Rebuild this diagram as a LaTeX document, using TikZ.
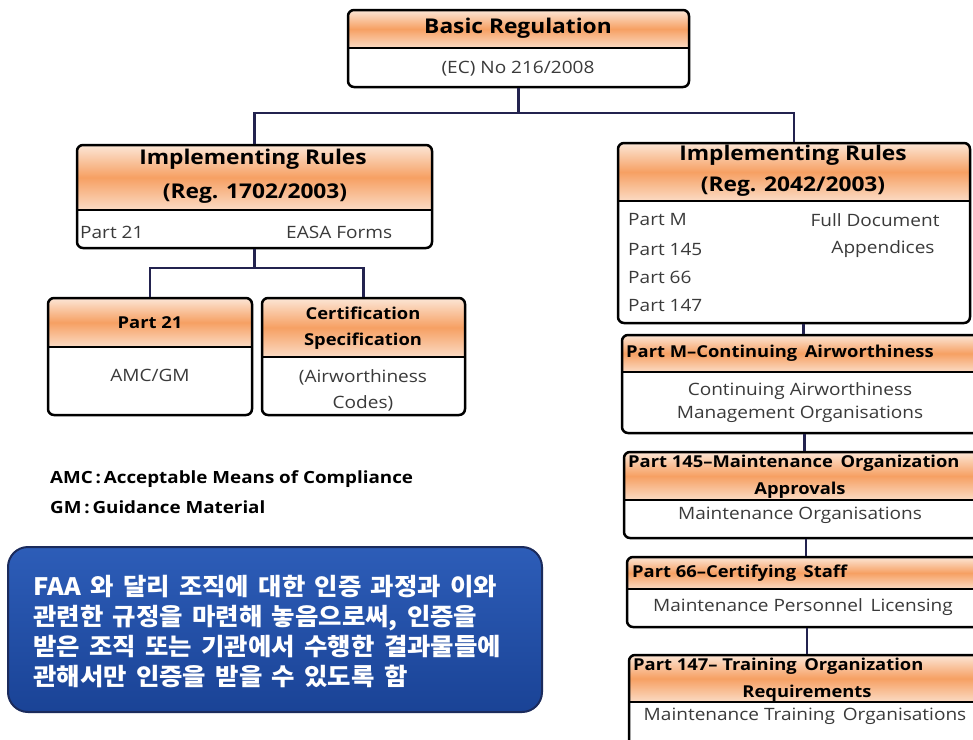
\documentclass[tikz,border=0pt]{standalone}
\usepackage{fontspec}
\setmainfont{Open Sans}[FakeStretch=1.12]
\newfontfamily\krfont{Noto Sans CJK KR}[FakeStretch=1.06, WordSpace=1.6]
\usetikzlibrary{fit}
\definecolor{peach}{HTML}{FCE6D6}
\definecolor{orng}{HTML}{F6A063}
\definecolor{navy}{HTML}{23234F}
\definecolor{bodytxt}{HTML}{3A3A3A}
\definecolor{bluetop}{HTML}{2D5DB8}
\definecolor{bluebot}{HTML}{1A4396}
\definecolor{blueedge}{HTML}{1B2B5C}
\tikzset{
  hdrshade/.style={top color=peach, bottom color=peach!85!orng, middle color=orng},
  boxline/.style={line width=2.5pt, black},
  boxframe/.style={draw=black, line width=2.5pt, rounded corners=6pt, inner sep=0pt},
  conn/.style={draw=navy, line width=2.8pt},
  hd/.style={font=\bfseries\fontsize{20.3}{22}\selectfont, text=black, inner sep=0pt},
  sb/.style={font=\bfseries\fontsize{16.4}{18}\selectfont, text=black, inner sep=0pt},
  bd/.style={font=\fontsize{17}{19}\selectfont, text=bodytxt, inner sep=0pt},
  note/.style={draw=blueedge, line width=2pt, rounded corners=20pt, top color=bluetop, bottom color=bluebot, inner sep=0pt},
  notetext/.style={font=\krfont\bfseries\fontsize{24}{30}\selectfont, text=white, align=left, inner sep=0pt},
  legend/.style={font=\bfseries\fontsize{16.8}{18}\selectfont, text=black, inner sep=0pt}
}
% name x1 y1 x2 ydiv y2
\newcommand\mkbox[6]{%
  \begin{scope}
    \clip[rounded corners=6pt] (#2,#3) rectangle (#4,#6);
    \fill[white] (#2,#3) rectangle (#4,#6);
    \shade[hdrshade] (#2,#3) rectangle (#4,#5);
  \end{scope}
  \draw[boxline] (#2,#5) -- (#4,#5);
  \node[boxframe, fit={(#2,#3) (#4,#6)}] (#1) {};
}
\begin{document}
\begin{tikzpicture}[x=1pt, y=-1pt]
\clip (0,0) rectangle (973,739);
\fill[white] (0,0) rectangle (973,739);

\coordinate (j1) at (0,113);
\coordinate (j2) at (0,268);

% boxes
\mkbox{basic}{348}{10}{689}{48}{87}
\mkbox{irl}{77}{145}{432}{210}{248}
\mkbox{irr}{618}{143}{970}{201}{323}
\mkbox{p21}{48}{298}{252}{347}{415}
\mkbox{cs}{262}{298}{465}{357}{415}
\mkbox{pm}{622}{335}{985}{372}{433}
\mkbox{pb}{624}{452}{985}{500}{538}
\mkbox{pc}{627}{557}{985}{589}{627}
\mkbox{pd}{629}{655}{985}{702}{760}

% connectors
\draw[conn] (basic.south) -- (basic.south |- j1) -| (irl.north);
\draw[conn] (basic.south |- j1) -| (irr.north);
\draw[conn] (irl.south) -- (irl.south |- j2) -| (p21.north);
\draw[conn] (irl.south |- j2) -| (cs.north);
\draw[conn] (irr.south -| pm.north) -- (pm.north);
\draw[conn] (pm.south -| pb.north) -- (pb.north);
\draw[conn] (pb.south -| pc.north) -- (pc.north);
\draw[conn] (pc.south -| pd.north) -- (pd.north);

% texts
\node[hd] (t1) at (518,28) {Basic Regulation};
\node[bd] (t2) at (518,69) {(EC) No 216/2008};

\node[hd] (t3) at (253,159) {Implementing Rules};
\node[hd] (t4) at (255,194) {(Reg. 1702/2003)};
\node[bd, anchor=west] (t5) at (80,232) {Part 21};
\node[bd, anchor=west] (t6) at (286,232) {EASA Forms};

\node[hd] (t7) at (793,155) {Implementing Rules};
\node[hd] (t8) at (793,187) {(Reg. 2042/2003)};
\node[bd, anchor=west] (t9) at (628,220) {Part M};
\node[bd, anchor=west] (t10) at (628,249) {Part 145};
\node[bd, anchor=west] (t11) at (628,277) {Part 66};
\node[bd, anchor=west] (t12) at (628,305) {Part 147};
\node[bd] (t13) at (875,220) {Full Document};
\node[bd] (t14) at (883,249) {Appendices};

\node[sb] (t15) at (150,323) {Part 21};
\node[bd] (t16) at (150,375) {AMC/GM};
\node[sb] (t17) at (363,313) {Certification};
\node[sb] (t18) at (363,341) {Specification};
\node[bd] (t19) at (363,377) {(Airworthiness};
\node[bd] (t20) at (363,403) {Codes)};

\node[sb, anchor=west] (t21) at (626,353) {Part M--Continuing\ \,Airworthiness};
\node[bd] (t22) at (800,391) {Continuing Airworthiness};
\node[bd] (t23) at (800,414) {Management Organisations};

\node[sb, anchor=west] (t24) at (628,463) {Part 145--Maintenance\ \,Organization};
\node[sb] (t25) at (800,490) {Approvals};
\node[bd] (t26) at (800,515) {Maintenance Organisations};

\node[sb, anchor=west] (t27) at (632,573) {Part 66--Certifying\ \,Staff};
\node[bd] (t28) at (803,607) {Maintenance Personnel\ \,Licensing};

\node[sb, anchor=west] (t29) at (633,666) {Part 147-- Training\ \,Organization};
\node[sb] (t30) at (807,693) {Requirements};
\node[bd] (t31) at (805,716) {Maintenance Training\ \,Organisations};

% legend
\node[legend, anchor=west] (l1) at (50,479) {AMC\,:\,Acceptable Means of Compliance};
\node[legend, anchor=west] (l2) at (50,507) {GM\,:\,Guidance Material};

% note box
\node[note, fit={(8,547) (542,712)}] (nb) {};
\node[notetext, anchor=west] (nt) at (33,632) {FAA 와 달리 조직에 대한 인증 과정과 이와\\관련한 규정을 마련해 놓음으로써, 인증을\\받은 조직 또는 기관에서 수행한 결과물들에\\관해서만 인증을 받을 수 있도록 함};
\end{tikzpicture}
\end{document}
